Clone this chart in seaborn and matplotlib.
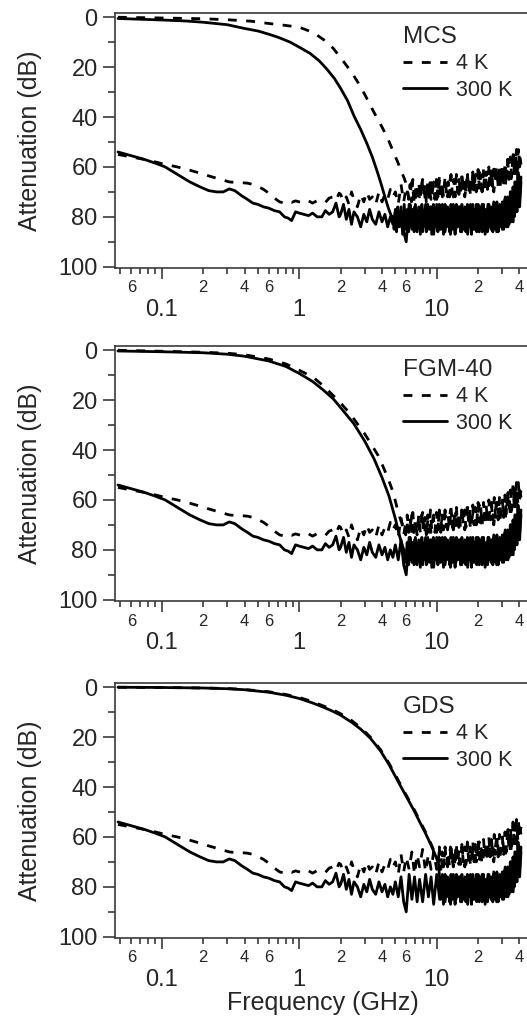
import pandas as pd
import matplotlib
matplotlib.use("Agg")
import matplotlib.pyplot as plt
from matplotlib.lines import Line2D
from matplotlib.ticker import FixedLocator, FixedFormatter, NullFormatter
import seaborn as sns

# ------------------------------
# Data (frequency in GHz, attenuation in dB)
# ------------------------------

# lower curves, same in all three panels: smooth part below 2 GHz
low_freq = [0.048, 0.06, 0.075, 0.09, 0.106, 0.13, 0.16, 0.19, 0.22, 0.25, 0.28, 0.31,
            0.34, 0.38, 0.42, 0.46, 0.5, 0.55, 0.6, 0.66, 0.72, 0.78, 0.83, 0.88,
            0.94, 1.0, 1.08, 1.17, 1.25, 1.35, 1.46, 1.55, 1.65, 1.75, 1.85, 1.95]
low_300k = [54, 55.5, 57, 58.5, 60, 63, 66, 68, 69.5, 70, 70, 68.8,
            69.5, 71.5, 73, 74.5, 75, 76, 76.5, 77.5, 78, 80, 80.5, 81.5,
            78, 78.5, 79, 79.5, 78.5, 80, 80, 77.5, 79, 78, 74.5, 80]
low_4k = [55, 56, 57, 58, 59, 60, 61.3, 62.5, 63.6, 64.5, 65.3, 66,
          66.2, 66.3, 66.5, 67, 67.8, 69, 70.5, 72.5, 74, 74.5, 73.8, 74.2,
          73.6, 74, 74.5, 73.6, 74.5, 73.5, 73.6, 74.2, 72.5, 72, 73.5, 70.5]

# lower curves, noisy part 2-41 GHz
hf_freq = [2.0, 2.1, 2.2, 2.3, 2.4, 2.5, 2.65, 2.8, 2.95, 3.1, 3.25, 3.4,
           3.6, 3.8, 4.0, 4.2, 4.4, 4.6, 4.8, 5.0,
           5.25, 5.5, 5.75, 6.0, 6.3, 6.6, 6.9, 7.2, 7.5,
           7.9, 8.3, 8.7, 9.1, 9.5, 10, 10.5, 11, 11.5, 12,
           12.6, 13.2, 13.8, 14.5, 15.2, 16, 16.8, 17.6, 18.5, 19.4,
           20.4, 21.4, 22.5, 23.6, 24.8, 26, 27.3, 28.7, 30, 31.5,
           33, 34.5, 36, 37, 38, 39, 40, 41]
hf_4k = [71, 74, 72, 75, 70, 73, 76, 71, 74, 70, 73, 72,
         75, 70, 74, 71, 73, 69, 72, 70,
         75, 67, 74, 68, 73, 66, 75, 67, 72,
         65, 74, 67, 73, 66, 73, 65, 72, 66, 72,
         64, 72, 65, 71, 64, 72, 63, 71, 64, 70,
         62, 71, 63, 70, 61, 70, 60, 69, 61, 68,
         57, 67, 55, 65, 53, 62, 54, 59]
hf_300k = [79, 75, 81, 77, 83, 78, 80, 84, 79, 82, 77, 81,
           83, 78, 82, 79, 84, 80, 83, 78,
           84, 76, 86, 90, 75, 85, 76, 86, 77,
           86, 75, 84, 76, 87, 75, 85, 75, 86, 76,
           87, 75, 85, 76, 86, 76, 87, 75, 85, 75,
           86, 75, 87, 75, 85, 74, 86, 75, 85, 72,
           84, 70, 82, 66, 78, 62, 74, 64]

# noise floor reached by the transmission curves above cut-off
floor_freq = [4.8, 4.9, 5.0, 5.1, 5.2, 5.35, 5.5, 5.65, 5.8, 5.95,
              6.1, 6.25, 6.4, 6.55, 6.7, 6.85, 7.0, 7.2, 7.4, 7.6,
              7.8, 8.0, 8.2, 8.4, 8.6, 8.8, 9.0, 9.2, 9.45, 9.7,
              9.95, 10.2, 10.45, 10.7, 10.95, 11.2, 11.5, 11.8, 12.1, 12.4,
              12.7, 13.0, 13.3, 13.6, 13.9, 14.2, 14.55, 14.9, 15.25, 15.6,
              15.95, 16.3, 16.7, 17.1, 17.5, 17.9, 18.3, 18.7, 19.1, 19.55,
              20.0, 20.45, 20.9, 21.4, 21.9, 22.4, 22.9, 23.4, 23.95, 24.5,
              25.05, 25.6, 26.2, 26.8, 27.4, 28.0, 28.6, 29.3, 30.0, 30.7,
              31.4, 32.1, 32.8, 33.55, 34.3, 35.1, 35.9, 36.7, 37.5, 38.35,
              39.2, 40.1, 41.0]
floor_4k = [70, 74, 68, 73, 67, 74, 66, 73, 68, 74,
            66, 73, 67, 74, 65, 72, 68, 74, 66, 73,
            65, 72, 67, 74, 66, 73, 64, 72, 67, 73,
            65, 72, 64, 73, 66, 72, 64, 71, 66, 72,
            63, 71, 65, 72, 63, 70, 65, 71, 63, 70,
            64, 71, 62, 70, 64, 69, 62, 70, 63, 69,
            61, 69, 63, 70, 61, 68, 62, 69, 60, 68,
            61, 68, 59, 67, 61, 68, 59, 66, 60, 67,
            58, 66, 57, 65, 56, 64, 54, 62, 55, 63,
            53, 60, 56]
floor_300k = [80, 85, 77, 86, 76, 84, 78, 87, 75, 85,
              77, 86, 75, 84, 77, 86, 75, 85, 76, 87,
              75, 84, 77, 86, 75, 85, 76, 87, 75, 84,
              77, 86, 75, 85, 76, 87, 75, 84, 77, 86,
              75, 85, 76, 87, 75, 84, 76, 86, 75, 85,
              77, 86, 75, 84, 76, 87, 75, 85, 77, 86,
              75, 84, 76, 86, 75, 85, 77, 86, 75, 84,
              76, 86, 75, 85, 74, 86, 76, 84, 74, 85,
              73, 84, 72, 83, 70, 82, 68, 80, 66, 78,
              63, 76, 66]

# transmission curves
mcs_freq_300k = [0.048, 0.07, 0.1, 0.15, 0.2, 0.3, 0.4, 0.5, 0.6, 0.7, 0.86, 1.0, 1.2, 1.4,
                 1.6, 1.8, 2.0, 2.25, 2.5, 2.8, 3.1, 3.4, 3.7, 3.95, 4.2, 4.45, 4.7]
mcs_300k = [0.5, 0.8, 1.1, 1.5, 2, 3, 4.5, 5.5, 6.8, 8, 10, 12, 14.5, 17.5,
            21, 24.5, 28.5, 33.5, 39.5, 45, 50.5, 56, 62, 67, 72, 76.5, 80]
mcs_freq_4k = [0.048, 0.1, 0.2, 0.3, 0.45, 0.6, 0.8, 1.0, 1.18, 1.35, 1.55, 1.77, 2.05,
               2.4, 2.7, 3.0, 3.3, 3.65, 4.0, 4.4, 4.8, 5.2, 5.5, 5.8, 6.1]
mcs_4k = [0, 0.3, 0.6, 1, 1.6, 2.5, 3.3, 4, 5.5, 7.2, 9.5, 12.5, 17,
          22, 26.5, 31, 35.5, 40, 44, 48.5, 53.5, 58, 61.5, 64.5, 68]

fgm_freq_300k = [0.048, 0.1, 0.2, 0.3, 0.4, 0.6, 0.8, 1.0, 1.25, 1.5, 1.77, 2.0, 2.5, 3.0,
                 3.5, 4.0, 4.5, 5.0, 5.4, 5.8]
fgm_300k = [0.3, 0.6, 1.0, 1.6, 2.4, 4.3, 6.5, 9.3, 12.5, 16, 19.5, 23, 29.5, 36.5,
            43.5, 51, 58.5, 67.5, 75, 80.5]
fgm_freq_4k = [0.048, 0.1, 0.2, 0.3, 0.4, 0.6, 0.8, 1.0, 1.26, 1.5, 1.77, 2.05, 2.35, 2.65,
               3.0, 3.35, 3.76, 4.1, 4.45, 4.75, 4.97, 5.26, 5.5, 5.8]
fgm_4k = [0, 0.4, 0.8, 1.2, 1.8, 3.5, 5.5, 8, 10.8, 14.3, 18.2, 21.8, 25.5, 29.5,
          33.6, 37.8, 42.3, 47, 51.7, 56, 59.8, 65.2, 68.5, 71]

gds_freq_300k = [0.048, 0.1, 0.2, 0.3, 0.4, 0.6, 0.8, 1.0, 1.25, 1.5, 1.75, 2.0, 2.4, 2.8,
                 3.3, 3.9, 4.5, 5.1, 5.7, 6.4, 7.0, 7.6, 8.2, 8.7, 9.3, 9.8, 10.3]
gds_300k = [0, 0.1, 0.3, 0.6, 1.0, 2.0, 3.2, 4.5, 6.3, 8.0, 9.6, 11.2, 14, 16.8,
            20.5, 25.5, 31, 36.6, 41.5, 46.5, 50.5, 54.5, 58, 61, 64.5, 67.5, 70.5]
gds_freq_4k = [0.048, 0.1, 0.2, 0.3, 0.4, 0.6, 0.8, 1.0, 1.25, 1.5, 1.75, 2.0, 2.4, 2.8,
               3.3, 3.9, 4.5, 5.1, 5.7, 6.4, 7.0, 7.6, 8.2, 8.7, 9.3, 9.8, 10.3]
gds_4k = [0, 0.1, 0.3, 0.5, 0.9, 1.8, 2.9, 4.1, 5.8, 7.5, 9.0, 10.6, 13.3, 16.2,
          20, 25, 30.5, 36, 41, 46, 50, 54, 57.5, 60.5, 64, 67, 70]

filters = ["MCS", "FGM-40", "GDS"]
trans = {
    "MCS": (mcs_freq_4k, mcs_4k, mcs_freq_300k, mcs_300k),
    "FGM-40": (fgm_freq_4k, fgm_4k, fgm_freq_300k, fgm_300k),
    "GDS": (gds_freq_4k, gds_4k, gds_freq_300k, gds_300k),
}

# x tick labels
major_ticks = [0.1, 1, 10]
major_labels = ["0.1", "1", "10"]
minor_ticks = [0.05, 0.06, 0.07, 0.08, 0.09, 0.2, 0.3, 0.4, 0.5, 0.6, 0.7, 0.8, 0.9,
               2, 3, 4, 5, 6, 7, 8, 9, 20, 30, 40]
minor_labels = ["", "6", "", "", "", "2", "", "4", "", "6", "", "", "",
                "2", "", "4", "", "6", "", "", "", "2", "", "4"]


def curve(f, v, f_tail=None, v_tail=None):
    df = pd.DataFrame({"freq": f, "att": v})
    if f_tail is not None:
        tail = pd.DataFrame({"freq": f_tail, "att": v_tail})
        df = pd.concat([df, tail[tail["freq"] > max(f)]], ignore_index=True)
    return df


lower_4k = curve(low_freq, low_4k, hf_freq, hf_4k)
lower_300k = curve(low_freq, low_300k, hf_freq, hf_300k)

# ------------------------------
# Plot
# ------------------------------
sns.set_style("ticks")
plt.rcParams["font.family"] = ["Liberation Sans", "DejaVu Sans"]

W, H = 527, 1019
fig = plt.figure(figsize=(W / 100, H / 100), dpi=100)

panel_top = [13, 346, 683]
panel_h = 255
ax_left, ax_right = 115, 530

LW = 2.0
DASH = (0, (3.2, 3.4))
frame_col = "#3a3a3a"

for i, name in enumerate(filters):
    top = panel_top[i]
    ax = fig.add_axes([ax_left / W, 1 - (top + panel_h) / H,
                       (ax_right - ax_left) / W, panel_h / H])
    f4, a4, f300, a300 = trans[name]
    t4 = curve(f4, a4, floor_freq, floor_4k)
    t300 = curve(f300, a300, floor_freq, floor_300k)

    for df, ls in [(lower_4k, DASH), (lower_300k, "-"), (t4, DASH), (t300, "-")]:
        sns.lineplot(data=df, x="freq", y="att", ax=ax, color="black", lw=LW,
                     linestyle=ls, estimator=None, sort=False, legend=False)

    ax.set_xscale("log")
    ax.set_xlim(0.0457, 47.7)
    ax.set_ylim(100.5, -1.7)

    ax.xaxis.set_major_locator(FixedLocator(major_ticks))
    ax.xaxis.set_major_formatter(FixedFormatter(major_labels))
    ax.xaxis.set_minor_locator(FixedLocator(minor_ticks))
    ax.xaxis.set_minor_formatter(FixedFormatter(minor_labels))
    ax.set_yticks([0, 20, 40, 60, 80, 100])
    ax.set_yticks([10, 30, 50, 70, 90], minor=True)
    ax.yaxis.set_minor_formatter(NullFormatter())

    ax.tick_params(axis="x", which="major", length=8, width=1.2, pad=14,
                   labelsize=17, color=frame_col)
    ax.tick_params(axis="x", which="minor", length=4, width=1.2, pad=5,
                   labelsize=12, color=frame_col)
    ax.tick_params(axis="y", which="major", length=8.5, width=1.2, pad=4,
                   labelsize=17, color=frame_col)
    ax.tick_params(axis="y", which="minor", length=5, width=1.2, color=frame_col)

    for sp in ax.spines.values():
        sp.set_color(frame_col)
        sp.set_linewidth(1.2)

    ax.set_ylabel("Attenuation (dB)", fontsize=18, labelpad=12)
    if i == 2:
        ax.set_xlabel("Frequency (GHz)", fontsize=18, labelpad=0)
    else:
        ax.set_xlabel("")

    handles = [Line2D([], [], color="black", lw=LW, linestyle=DASH),
               Line2D([], [], color="black", lw=LW, linestyle="-")]
    leg = ax.legend(handles, ["4 K", "300 K"], title=name, loc="upper left",
                    bbox_to_anchor=(288 / 415, 1 - 13 / panel_h), frameon=False,
                    fontsize=15.5, title_fontsize=17.5, alignment="left",
                    borderpad=0, borderaxespad=0, handlelength=2.05,
                    handletextpad=0.4, labelspacing=0.25)

fig.savefig("out.png", dpi=100)
